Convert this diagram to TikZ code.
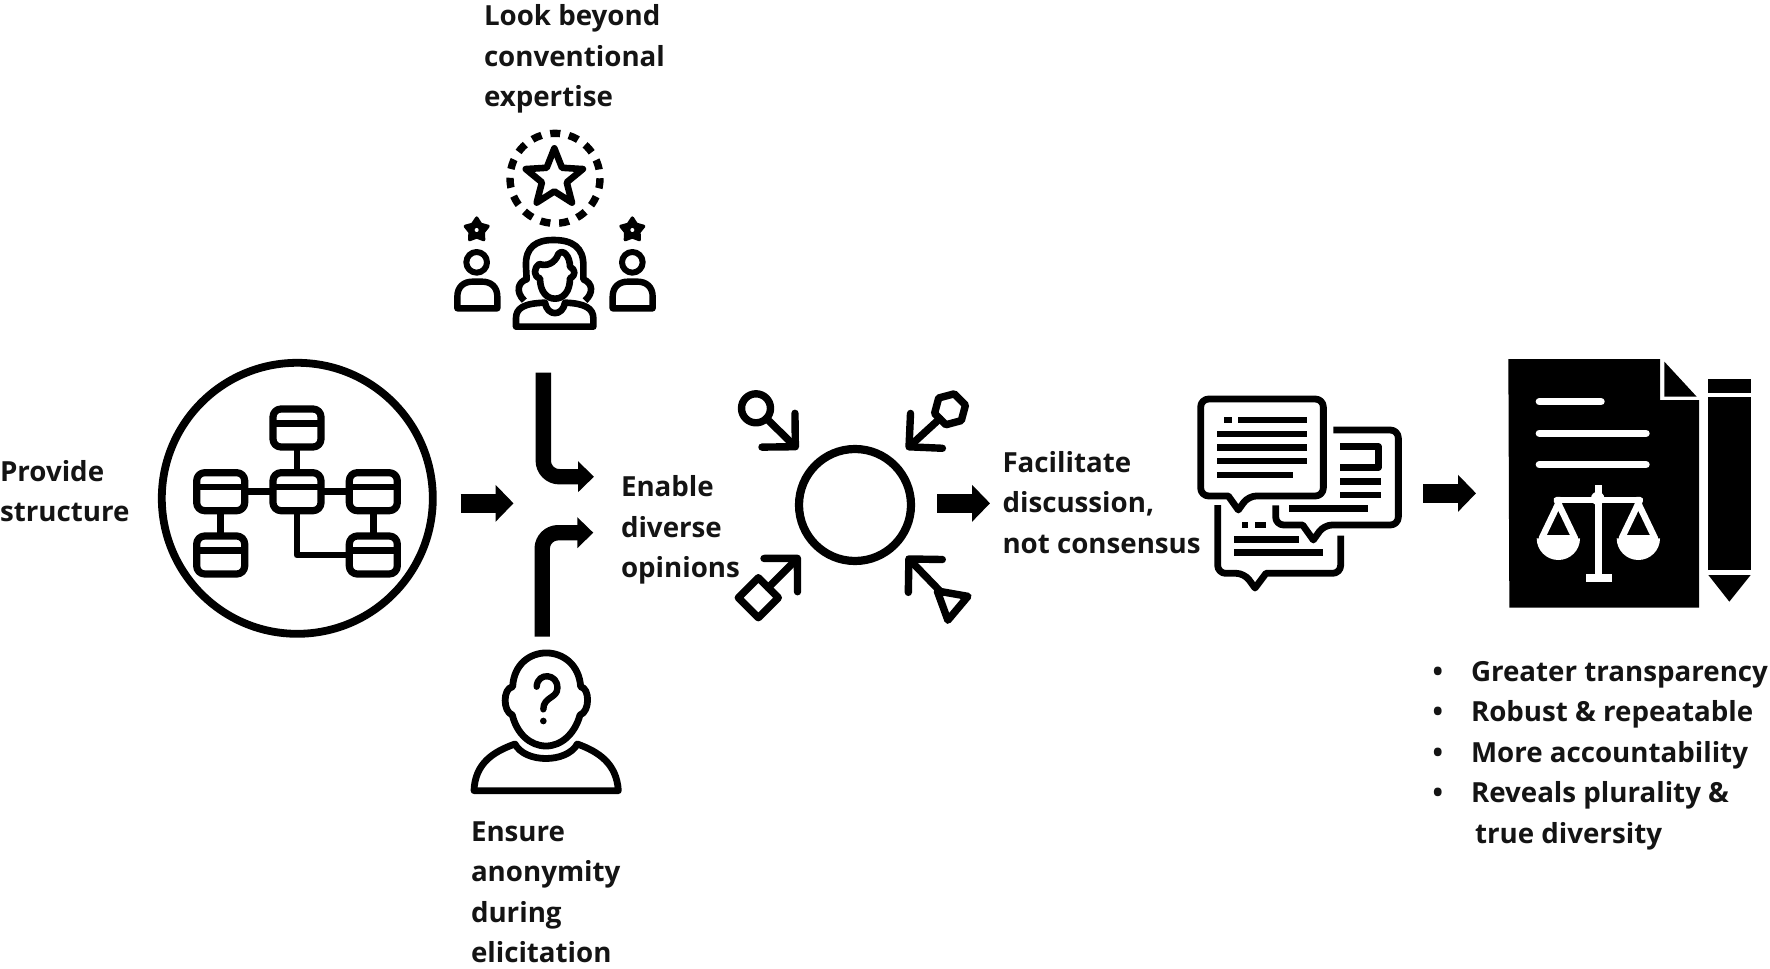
\documentclass[tikz,border=0pt]{standalone}
\usepackage{fontspec}
\setmainfont{Open Sans}
\usetikzlibrary{arrows.meta,shapes.geometric}
\newcommand\bul{\llap{\textbullet\hspace{14pt}}}
\begin{document}
\begin{tikzpicture}[x=0.5pt,y=-0.5pt,line join=round,
  every node/.style={inner sep=0pt,outer sep=0pt},
  caption/.style={anchor=west,align=left,font=\fontsize{13.85}{20.25}\selectfont\bfseries,text=black!92},
  icon/.style={draw,line width=3.2pt},
  tablebox/.style={draw,line width=3.6pt,rounded corners=4pt,minimum width=24pt,minimum height=19pt},
  tieline/.style={line width=3.4pt},
  flowarrow/.style={line width=7.7pt,rounded corners=8pt,-{Triangle[length=8pt,width=15pt]}},
  steparrow/.style={line width=9.3pt,-{Triangle[length=9pt,width=18pt]}},
  spoke/.style={line width=3.7pt,line cap=round,-{Straight Barb[round,angle=90:13pt 1]}},
  opinion/.style={draw,line width=3.7pt,minimum size=32pt},
  chatline/.style={line width=3.4pt},
  chatedge/.style={line width=3.4pt,rounded corners=4pt}]
\useasboundingbox (0,0) rectangle (1770,968);
\node[caption] (look) at (484,59) {Look beyond\\conventional\\expertise};
\node[caption] (provide) at (0,491) {Provide\\structure};
\node[caption] (enable) at (621,530) {Enable\\diverse\\opinions};
\node[caption] (ensure) at (471,892) {Ensure\\anonymity\\during\\elicitation};
\node[caption] (facilitate) at (1002.5,502.5) {Facilitate\\discussion,\\not consensus};
\node[caption] (gains) at (1471,755.5) {\bul Greater transparency\\\bul Robust \& repeatable\\\bul More accountability\\\bul Reveals plurality \&\\\hspace{2pt}true diversity};
% experts
\begin{scope}[shift={(430,110)},scale=1/3]
\draw[line width=3.7pt,dash pattern=on 5pt off 4.42pt] (375,205) circle[radius=135];
\node[star,star points=5,star point ratio=2.3,icon,line width=3.3pt,minimum size=30pt] (bigstar) at (373,205) {};
\foreach \n/\x in {left/140,right/607} {
  \node[star,star points=5,star point ratio=1.7,fill,draw,line width=1.6pt,minimum size=12pt] (star\n) at (\x,360) {};
  \fill[white] (\x,360) circle[radius=6];
  \draw[line width=3pt] (\x,457) circle[radius=31];
}
\foreach \x in {82,548}
  \draw[line width=3.2pt] (\x,595) -- (\x,560) .. controls (\x,530) and (\x+20,515) .. (\x+45,515) -- (\x+75,515) .. controls (\x+100,515) and (\x+120,530) .. (\x+120,560) -- (\x+120,595) -- cycle;
\draw[icon,line width=3.3pt] (258,650) -- (258,625) .. controls (258,595) and (280,580) .. (345,578) .. controls (352,620) and (398,620) .. (405,578) .. controls (465,580) and (490,595) .. (490,625) -- (490,650) -- cycle;
\draw[icon,line width=3.3pt] (283,572) .. controls (255,545) and (265,515) .. (290,508) -- (288,470) .. controls (285,410) and (320,390) .. (370,390) .. controls (425,390) and (462,410) .. (460,470) -- (460,508) .. controls (490,520) and (490,550) .. (465,572);
\draw[icon,line width=3.3pt] (330,505) .. controls (330,545) and (350,566) .. (375,566) .. controls (400,566) and (420,545) .. (420,505) .. controls (440,495) and (435,478) .. (420,470) .. controls (420,440) and (400,415) .. (385,432) .. controls (375,460) and (350,470) .. (328,462) .. controls (310,475) and (310,500) .. (330,505) -- cycle;
\end{scope}
% structure
\node[icon,circle,line width=3.9pt,minimum size=135.5pt] (frame) at (297.3,498.3) {};
\node[tablebox] (tt) at (297,428) {};
\node[tablebox] (tl) at (220.7,491.7) {};
\node[tablebox] (tc) at (297,491.7) {};
\node[tablebox] (tr) at (373.3,491.7) {};
\node[tablebox] (bl) at (220.7,555) {};
\node[tablebox] (br) at (373.3,555) {};
\foreach \n in {tt,tl,tc,tr,bl,br}
  \draw[line width=3.2pt] ([yshift=2.3pt]\n.west) -- ([yshift=2.3pt]\n.east);
\draw[tieline] (tt) -- (tc);
\draw[tieline] (tl) -- (tc);
\draw[tieline] (tc) -- (tr);
\draw[tieline] (tl) -- (bl);
\draw[tieline] (tr) -- (br);
\draw[tieline] (tc) |- (br);
% arrows
\coordinate (ina) at (543.3,372.5);
\coordinate (inb) at (594,476.7);
\coordinate (inc) at (542.2,636.7);
\coordinate (ind) at (593.3,532.7);
\draw[flowarrow] (ina) |- (inb);
\draw[flowarrow] (inc) |- (ind);
\coordinate (sa) at (460.7,503.3);
\coordinate (sb) at (513.5,503.3);
\coordinate (sc) at (937,503.3);
\coordinate (sd) at (990,503.3);
\coordinate (se) at (1423,493.3);
\coordinate (sf) at (1476,493.3);
\draw[steparrow] (sa) -- (sb);
\draw[steparrow] (sc) -- (sd);
\draw[steparrow] (se) -- (sf);
% opinions
\node[circle,draw,line width=4.1pt,minimum size=56pt] (hub) at (855,505) {};
\node[circle,opinion,minimum size=14.5pt] (keya) at (756,408.3) {};
\node[regular polygon,regular polygon sides=6,opinion,minimum size=16pt,rotate=15] (keyb) at (950,409.3) {};
\node[diamond,opinion,minimum size=20pt] (keyc) at (758.3,597.7) {};
\node[regular polygon,regular polygon sides=3,opinion,minimum size=18pt,rotate=170] (keyd) at (951,602.5) {};
\coordinate (tipa) at (798,449.3);
\coordinate (tipb) at (906.3,449.3);
\coordinate (tipc) at (800,555.7);
\coordinate (tipd) at (906.3,556.3);
\draw[spoke] (keya) -- (tipa);
\draw[spoke] (keyb) -- (tipb);
\draw[spoke] (keyc) -- (tipc);
\draw[spoke] (keyd) -- (tipd);
% chat
\begin{scope}[shift={(1180,380)},scale=1/3]
\draw[chatedge] (62,57) -- (430,57) -- (430,348) -- (205,348) [sharp corners] -- (175,390) -- (145,348) [rounded corners=4pt] -- (62,348) -- cycle;
\fill (133,110) rectangle (155,130);
\foreach \y/\a/\b in {120/175/380,162/112/380,203/112/380,243/112/380,285/112/338,304/480/603,345/480/603,386/327/563,478/163/358,518/163/430}
  \draw[chatline] (\a,\y) -- (\b,\y);
\draw[chatedge] (460,150) -- (655,150) -- (655,435) -- (432,435) [sharp corners] -- (400,480) -- (368,435) [rounded corners=4pt] -- (287,435) -- (287,376);
\draw[chatline] (480,200) -- (595,200) -- (595,262) -- (480,262);
\draw[chatedge] (113,375) -- (113,580) -- (193,580) [sharp corners] -- (225,624) -- (258,580) [rounded corners=4pt] -- (482,580) -- (482,467);
\fill (185,425) rectangle (205,445);
\fill (225,425) rectangle (257,445);
\end{scope}
% document
\begin{scope}[shift={(1410,350)},scale=1/3]
\fill (295,27) -- (750,27) -- (750,150) -- (867,150) -- (867,773) -- (298,773) -- cycle;
\fill (763,35) -- (860,140) -- (763,140) -- cycle;
\draw[white,line width=3.7pt,line cap=round] (388,155) -- (573,155);
\draw[white,line width=3.7pt,line cap=round] (388,250) -- (708,250);
\draw[white,line width=3.7pt,line cap=round] (388,344) -- (708,344);
\draw[white,line width=3.7pt] (565,405) -- (565,680);
\fill[white] (527,673) rectangle (605,697);
\fill[white] (563,445) circle[radius=20];
\draw[white,line width=3.2pt] (443,450) -- (690,450);
\foreach \x in {445,685} {
  \draw[white,line width=3.2pt] (\x-5,450) -- (\x+50,565) -- (\x-50,565) -- (\x+5,450) -- cycle;
  \fill[white] (\x-65,565) arc[start angle=180,end angle=0,radius=65] -- cycle;
}
\fill (893,87) rectangle (1023,128);
\fill (893,142) rectangle (1023,660);
\fill (895,675) -- (1022,675) -- (958,755) -- cycle;
\end{scope}
% anonymous
\begin{scope}[shift={(450,640)},scale=1/3]
\draw[icon,line width=3.4pt] (188,140) .. controls (195,5) and (382,5) .. (392,140) .. controls (420,145) and (420,215) .. (390,225) .. controls (375,280) and (335,318) .. (288,318) .. controls (240,318) and (200,280) .. (187,225) .. controls (158,215) and (158,145) .. (188,140) -- cycle;
\draw[icon,line width=3.4pt] (72,452) .. controls (75,370) and (130,335) .. (195,312) .. controls (225,370) and (350,370) .. (382,312) .. controls (445,335) and (500,370) .. (505,452) -- cycle;
\draw[line width=3.2pt,line cap=round] (260,140) .. controls (262,95) and (325,100) .. (322,145) .. controls (322,175) and (280,170) .. (280,208);
\fill (280,243) circle[radius=10];
\end{scope}
\end{tikzpicture}
\end{document}
